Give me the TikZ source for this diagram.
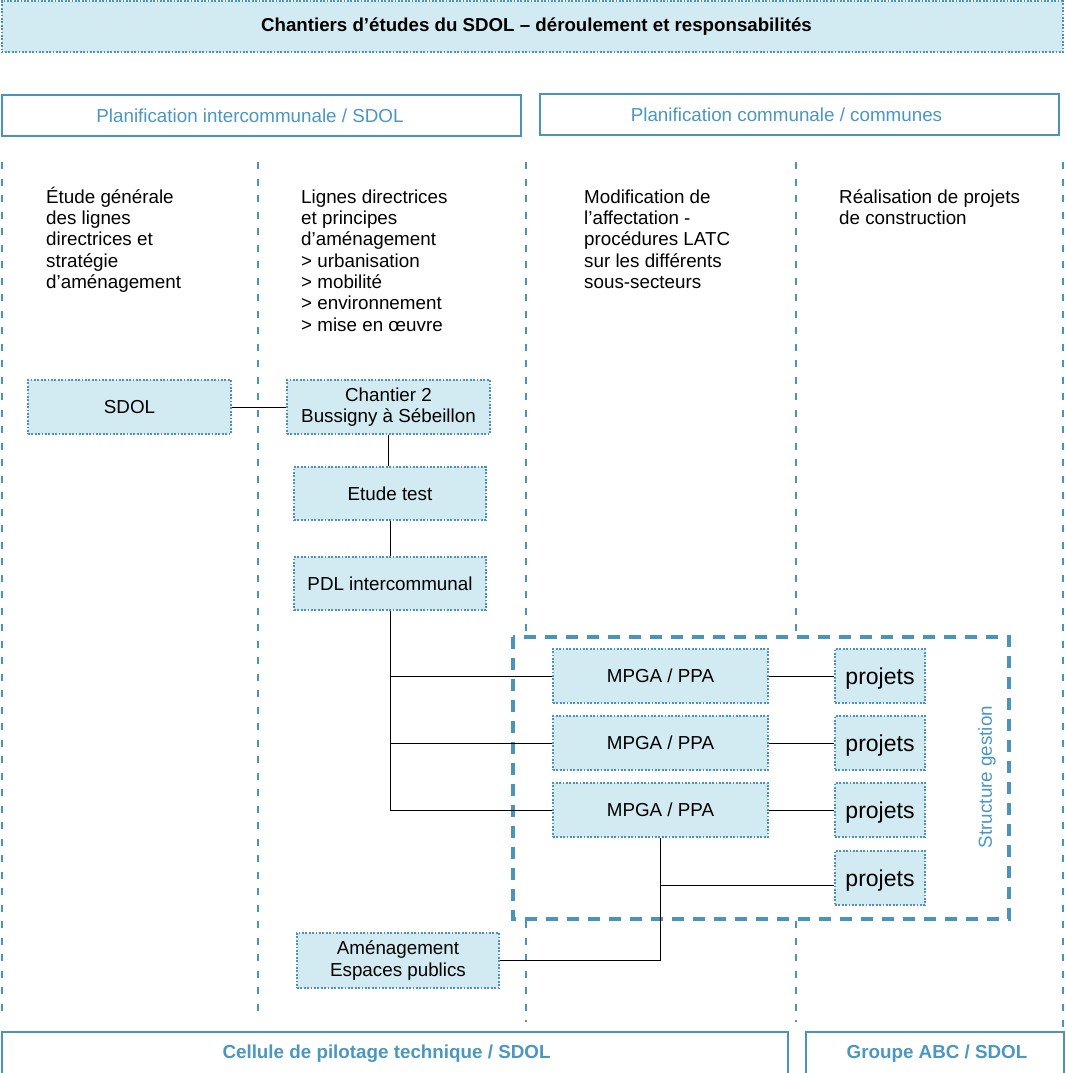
\documentclass[tikz,border=0pt]{standalone}
\usepackage{fontspec}
\setmainfont{Liberation Sans}
\definecolor{lineblue}{HTML}{4A93BB}
\definecolor{fillblue}{HTML}{D2EAF1}
\definecolor{textblue}{HTML}{4A97C2}
\newcommand{\fl}{\rule{0pt}{18pt}}
\tikzset{
  basefont/.style={font=\fontsize{18.8}{21.3}\selectfont},
  dotbox/.style={draw=lineblue, fill=fillblue, line width=2pt,
    dash pattern=on 1.8pt off 1.6pt, inner sep=0pt, align=center,
    basefont, text=black},
  headbox/.style={draw=lineblue, line width=1.4pt, inner sep=0pt,
    basefont, text=textblue},
  colline/.style={draw=lineblue, line width=1.8pt, dash pattern=on 7pt off 9.5pt},
  coltext/.style={anchor=north west, inner sep=0pt, align=left, basefont},
  conn/.style={draw=black, line width=1pt},
}
\begin{document}
\begin{tikzpicture}[x=1pt,y=-1pt]
\useasboundingbox (0,0) rectangle (1065,1073);
\fill[white] (0,0) rectangle (1065,1073);

% column separators
\foreach \xx/\yb in {2/1016, 258/1016, 526/1022, 796/1022, 1063/1032}
  \draw[colline] (\xx,162) -- (\xx,\yb);

% title
\node[dotbox, minimum width=1061pt, minimum height=51pt,
  font=\fontsize{18.7}{21.3}\selectfont\bfseries]
  (title) at (532,27) {\hspace*{9pt}Chantiers d’études du SDOL – déroulement et responsabilités};

% header boxes
\node[headbox, minimum width=519pt, minimum height=41pt] (h1) at (261.5,115.5) {Planification intercommunale / SDOL\hspace*{23pt}};
\node[headbox, minimum width=519pt, minimum height=41pt] (h2) at (799.5,114.5) {Planification communale / communes\hspace*{26pt}};

% column texts
\node[coltext] (c1) at (46,185) {\fl Étude générale\\des lignes\\directrices et\\stratégie\\d’aménagement};
\node[coltext] (c2) at (301,185) {\fl Lignes directrices\\et principes\\d’aménagement\\> urbanisation\\> mobilité\\> environnement\\> mise en œuvre};
\node[coltext] (c3) at (584,185) {\fl Modification de\\l’affectation -\\procédures LATC\\sur les différents\\sous-secteurs};
\node[coltext] (c4) at (839,185) {\fl Réalisation de projets\\de construction};

% structure gestion frame
\draw[draw=lineblue, fill=white, line width=4.5pt, dash pattern=on 12pt off 9pt]
  (513,637) rectangle (1009,919);
\node[rotate=90, basefont, text=textblue, inner sep=0pt] (sg) at (987,777) {Structure gestion};

% nodes
\node[dotbox, minimum width=203pt, minimum height=54pt] (sdol) at (129.5,407) {SDOL};
\node[dotbox, minimum width=203pt, minimum height=54pt] (ch2) at (388.5,407) {Chantier 2\\Bussigny à Sébeillon};
\node[dotbox, minimum width=192pt, minimum height=53pt] (etude) at (390,493.5) {Etude test};
\node[dotbox, minimum width=192pt, minimum height=53pt] (pdl) at (390,583.5) {PDL intercommunal};
\node[dotbox, minimum width=202pt, minimum height=55pt] (amen) at (398,960.5) {Aménagement\\Espaces publics};
\foreach \i/\yy in {1/676, 2/743, 3/810} {
  \node[dotbox, minimum width=215pt, minimum height=54pt] (m\i) at (660.5,\yy) {MPGA / PPA};
}
\foreach \i/\yy in {1/676, 2/743, 3/810, 4/878} {
  \node[dotbox, minimum width=90pt, minimum height=54pt, text height=17pt, text depth=1pt,
    font=\fontsize{23}{26}\selectfont] (p\i) at (880,\yy) {projets};
}

% connectors
\draw[conn] (sdol.east) -- (ch2.west);
\draw[conn] (ch2.south) -- (ch2.south |- etude.north);
\draw[conn] (etude.south) -- (etude.south |- pdl.north);
\draw[conn] (pdl.south) -- (pdl.south |- m3.west) -- (m3.west);
\draw[conn] (pdl.south |- m1.west) -- (m1.west);
\draw[conn] (pdl.south |- m2.west) -- (m2.west);
\draw[conn] (m1.east) -- (p1.west);
\draw[conn] (m2.east) -- (p2.west);
\draw[conn] (m3.east) -- (p3.west);
\coordinate (j4) at (660.5,885);
\draw[conn] (m3.south) -- (m3.south |- amen.east) -- (amen.east);
\draw[conn] (j4) -- (j4 -| p4.west);

% bottom boxes
\node[headbox, minimum width=786pt, minimum height=44pt,
  font=\fontsize{18.8}{21.3}\selectfont\bfseries] (b1) at (395,1054) {Cellule de pilotage technique / SDOL\hspace*{17pt}};
\node[headbox, minimum width=258pt, minimum height=44pt,
  font=\fontsize{18.8}{21.3}\selectfont\bfseries] (b2) at (935,1054) {\hspace*{4pt}Groupe ABC / SDOL};
\end{tikzpicture}
\end{document}
